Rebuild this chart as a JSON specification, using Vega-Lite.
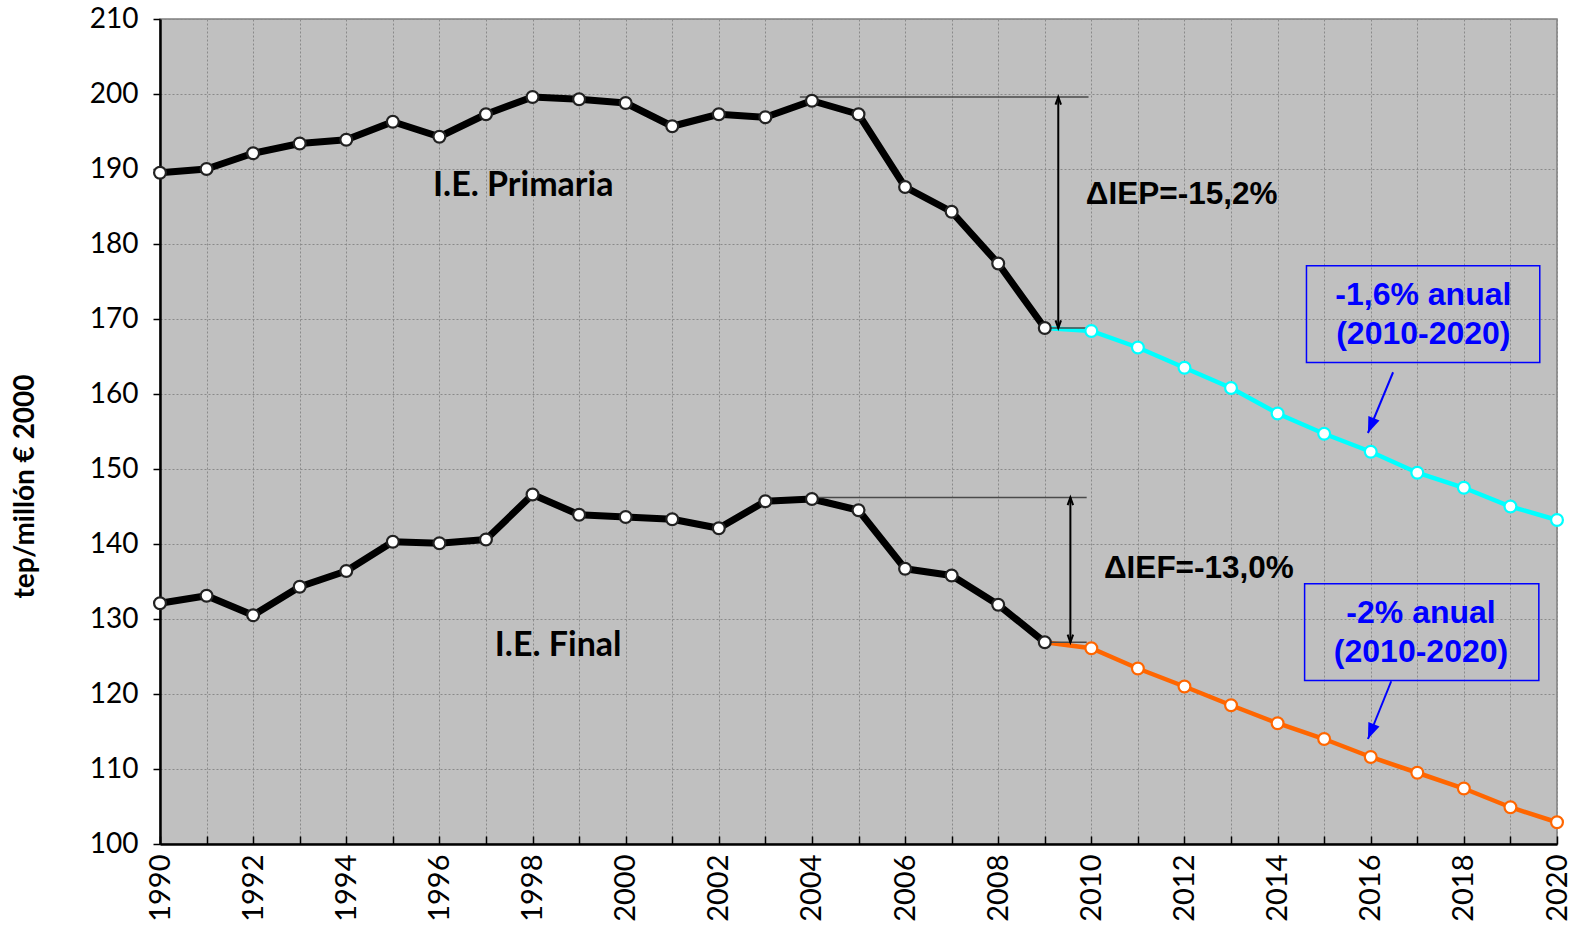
{
  "$schema": "https://vega.github.io/schema/vega-lite/v6.json",
  "width": 1397,
  "height": 825,
  "autosize": {"type": "none"},
  "padding": {"left": 160, "top": 19, "right": 20, "bottom": 87},
  "background": "white",
  "config": {
    "view": {"fill": "#C0C0C0", "stroke": "#808080", "strokeWidth": 1.5},
    "axis": {"labelFont": "Lato", "titleFont": "Lato", "labelColor": "black", "titleColor": "black"}
  },
  "datasets": {
    "series": [
      {"serie": "IEP histórico", "tipo": "h", "year": 1990, "value": 189.5},
      {"serie": "IEP histórico", "tipo": "h", "year": 1991, "value": 190.0},
      {"serie": "IEP histórico", "tipo": "h", "year": 1992, "value": 192.1},
      {"serie": "IEP histórico", "tipo": "h", "year": 1993, "value": 193.4},
      {"serie": "IEP histórico", "tipo": "h", "year": 1994, "value": 193.9},
      {"serie": "IEP histórico", "tipo": "h", "year": 1995, "value": 196.3},
      {"serie": "IEP histórico", "tipo": "h", "year": 1996, "value": 194.3},
      {"serie": "IEP histórico", "tipo": "h", "year": 1997, "value": 197.3},
      {"serie": "IEP histórico", "tipo": "h", "year": 1998, "value": 199.6},
      {"serie": "IEP histórico", "tipo": "h", "year": 1999, "value": 199.3},
      {"serie": "IEP histórico", "tipo": "h", "year": 2000, "value": 198.8},
      {"serie": "IEP histórico", "tipo": "h", "year": 2001, "value": 195.7},
      {"serie": "IEP histórico", "tipo": "h", "year": 2002, "value": 197.3},
      {"serie": "IEP histórico", "tipo": "h", "year": 2003, "value": 196.9},
      {"serie": "IEP histórico", "tipo": "h", "year": 2004, "value": 199.1},
      {"serie": "IEP histórico", "tipo": "h", "year": 2005, "value": 197.3},
      {"serie": "IEP histórico", "tipo": "h", "year": 2006, "value": 187.6},
      {"serie": "IEP histórico", "tipo": "h", "year": 2007, "value": 184.3},
      {"serie": "IEP histórico", "tipo": "h", "year": 2008, "value": 177.4},
      {"serie": "IEP histórico", "tipo": "h", "year": 2009, "value": 168.8},
      {"serie": "IEP previsión", "tipo": "p", "year": 2009, "value": 168.8},
      {"serie": "IEP previsión", "tipo": "p", "year": 2010, "value": 168.4},
      {"serie": "IEP previsión", "tipo": "p", "year": 2011, "value": 166.2},
      {"serie": "IEP previsión", "tipo": "p", "year": 2012, "value": 163.5},
      {"serie": "IEP previsión", "tipo": "p", "year": 2013, "value": 160.8},
      {"serie": "IEP previsión", "tipo": "p", "year": 2014, "value": 157.4},
      {"serie": "IEP previsión", "tipo": "p", "year": 2015, "value": 154.7},
      {"serie": "IEP previsión", "tipo": "p", "year": 2016, "value": 152.3},
      {"serie": "IEP previsión", "tipo": "p", "year": 2017, "value": 149.5},
      {"serie": "IEP previsión", "tipo": "p", "year": 2018, "value": 147.5},
      {"serie": "IEP previsión", "tipo": "p", "year": 2019, "value": 145.0},
      {"serie": "IEP previsión", "tipo": "p", "year": 2020, "value": 143.2},
      {"serie": "IEF histórico", "tipo": "h", "year": 1990, "value": 132.1},
      {"serie": "IEF histórico", "tipo": "h", "year": 1991, "value": 133.1},
      {"serie": "IEF histórico", "tipo": "h", "year": 1992, "value": 130.5},
      {"serie": "IEF histórico", "tipo": "h", "year": 1993, "value": 134.3},
      {"serie": "IEF histórico", "tipo": "h", "year": 1994, "value": 136.4},
      {"serie": "IEF histórico", "tipo": "h", "year": 1995, "value": 140.3},
      {"serie": "IEF histórico", "tipo": "h", "year": 1996, "value": 140.1},
      {"serie": "IEF histórico", "tipo": "h", "year": 1997, "value": 140.6},
      {"serie": "IEF histórico", "tipo": "h", "year": 1998, "value": 146.6},
      {"serie": "IEF histórico", "tipo": "h", "year": 1999, "value": 143.9},
      {"serie": "IEF histórico", "tipo": "h", "year": 2000, "value": 143.6},
      {"serie": "IEF histórico", "tipo": "h", "year": 2001, "value": 143.3},
      {"serie": "IEF histórico", "tipo": "h", "year": 2002, "value": 142.1},
      {"serie": "IEF histórico", "tipo": "h", "year": 2003, "value": 145.7},
      {"serie": "IEF histórico", "tipo": "h", "year": 2004, "value": 146.0},
      {"serie": "IEF histórico", "tipo": "h", "year": 2005, "value": 144.5},
      {"serie": "IEF histórico", "tipo": "h", "year": 2006, "value": 136.7},
      {"serie": "IEF histórico", "tipo": "h", "year": 2007, "value": 135.8},
      {"serie": "IEF histórico", "tipo": "h", "year": 2008, "value": 131.9},
      {"serie": "IEF histórico", "tipo": "h", "year": 2009, "value": 126.9},
      {"serie": "IEF previsión", "tipo": "p", "year": 2009, "value": 126.9},
      {"serie": "IEF previsión", "tipo": "p", "year": 2010, "value": 126.1},
      {"serie": "IEF previsión", "tipo": "p", "year": 2011, "value": 123.4},
      {"serie": "IEF previsión", "tipo": "p", "year": 2012, "value": 121.0},
      {"serie": "IEF previsión", "tipo": "p", "year": 2013, "value": 118.5},
      {"serie": "IEF previsión", "tipo": "p", "year": 2014, "value": 116.1},
      {"serie": "IEF previsión", "tipo": "p", "year": 2015, "value": 114.0},
      {"serie": "IEF previsión", "tipo": "p", "year": 2016, "value": 111.6},
      {"serie": "IEF previsión", "tipo": "p", "year": 2017, "value": 109.5},
      {"serie": "IEF previsión", "tipo": "p", "year": 2018, "value": 107.4},
      {"serie": "IEF previsión", "tipo": "p", "year": 2019, "value": 104.9},
      {"serie": "IEF previsión", "tipo": "p", "year": 2020, "value": 102.9}
    ],
    "hlines": [
      {"year": 2003.74, "year2": 2009.94, "value": 199.6},
      {"year": 2009.0, "year2": 2009.94, "value": 168.8},
      {"year": 2003.95, "year2": 2009.9, "value": 146.2},
      {"year": 2009.0, "year2": 2009.9, "value": 126.9}
    ],
    "vlines": [
      {"year": 2009.29, "value": 199.6, "value2": 168.8},
      {"year": 2009.55, "value": 146.2, "value2": 126.9}
    ],
    "headsUp": [
      {"year": 2009.29, "value": 199.6},
      {"year": 2009.55, "value": 146.2}
    ],
    "headsDown": [
      {"year": 2009.29, "value": 168.8},
      {"year": 2009.55, "value": 126.9}
    ],
    "labelsIE": [
      {"year": 1997.8, "value": 187.7, "text": "I.E. Primaria"},
      {"year": 1998.55, "value": 126.4, "text": "I.E. Final"}
    ],
    "labelsDelta": [
      {"year": 2011.94, "value": 186.6, "text": "ΔIEP=-15,2%"},
      {"year": 2012.31, "value": 136.7, "text": "ΔIEF=-13,0%"}
    ],
    "boxes": [
      {"year": 2014.62, "year2": 2019.63, "value": 177.1, "value2": 164.2},
      {"year": 2014.58, "year2": 2019.61, "value": 134.7, "value2": 121.8}
    ],
    "labelsBlue": [
      {"year": 2017.13, "value": 173.2, "text": "-1,6% anual"},
      {"year": 2017.13, "value": 168.0, "text": "(2010-2020)"},
      {"year": 2017.08, "value": 130.8, "text": "-2% anual"},
      {"year": 2017.08, "value": 125.6, "text": "(2010-2020)"}
    ],
    "blueArrows": [
      {"year": 2016.48, "year2": 2015.94, "value": 162.9, "value2": 154.8},
      {"year": 2016.44, "year2": 2015.94, "value": 121.7, "value2": 114.0}
    ]
  },
  "layer": [
    {
      "data": {"name": "series"},
      "transform": [{"filter": "datum.tipo == 'p'"}],
      "mark": {"type": "line", "strokeWidth": 4.5},
      "encoding": {
        "x": {
          "field": "year", "type": "quantitative",
          "scale": {"domain": [1990, 2020], "nice": false, "zero": false},
          "axis": {
            "title": null,
            "values": [1990,1991,1992,1993,1994,1995,1996,1997,1998,1999,2000,2001,2002,2003,2004,2005,2006,2007,2008,2009,2010,2011,2012,2013,2014,2015,2016,2017,2018,2019,2020],
            "labelExpr": "datum.value % 2 == 0 ? datum.value : ''",
            "format": "d",
            "labelAngle": -90,
            "labelFontSize": 29,
            "labelPadding": 18,
            "tickSize": -8,
            "tickColor": "black",
            "tickWidth": 1.5,
            "domainColor": "black",
            "domainWidth": 2.5,
            "grid": true,
            "gridColor": "#8a8a8a",
            "gridDash": [2, 2],
            "gridWidth": 1,
            "labelOverlap": false
          }
        },
        "y": {
          "field": "value", "type": "quantitative",
          "scale": {"domain": [100, 210], "nice": false, "zero": false},
          "axis": {
            "title": "tep/millón € 2000",
            "titleFontSize": 28,
            "titleFontWeight": "bold",
            "titleX": -135,
            "titleY": 467,
            "titleAngle": -90,
            "titleAlign": "center",
            "titleBaseline": "middle",
            "values": [100,110,120,130,140,150,160,170,180,190,200,210],
            "labelFontSize": 28,
            "labelPadding": 15,
            "tickSize": 7,
            "tickColor": "black",
            "tickWidth": 1.5,
            "domainColor": "black",
            "domainWidth": 2.5,
            "grid": true,
            "gridColor": "#8a8a8a",
            "gridDash": [2, 2],
            "gridWidth": 1
          }
        },
        "detail": {"field": "serie"},
        "color": {
          "field": "serie", "type": "nominal", "legend": null,
          "scale": {"domain": ["IEP histórico", "IEP previsión", "IEF histórico", "IEF previsión"], "range": ["#000000", "#00FFFF", "#000000", "#FF6600"]}
        }
      }
    },
    {
      "data": {"name": "series"},
      "transform": [{"filter": "datum.tipo == 'h'"}],
      "mark": {"type": "line", "strokeWidth": 7, "strokeJoin": "round"},
      "encoding": {
        "x": {"field": "year", "type": "quantitative"},
        "y": {"field": "value", "type": "quantitative"},
        "detail": {"field": "serie"},
        "color": {"field": "serie", "type": "nominal", "legend": null}
      }
    },
    {
      "data": {"name": "hlines"},
      "mark": {"type": "rule", "color": "#4a4a4a", "strokeWidth": 1.5},
      "encoding": {
        "x": {"field": "year", "type": "quantitative"},
        "x2": {"field": "year2"},
        "y": {"field": "value", "type": "quantitative"}
      }
    },
    {
      "data": {"name": "vlines"},
      "mark": {"type": "rule", "color": "black", "strokeWidth": 2},
      "encoding": {
        "x": {"field": "year", "type": "quantitative"},
        "y": {"field": "value", "type": "quantitative"},
        "y2": {"field": "value2"}
      }
    },
    {
      "data": {"name": "headsUp"},
      "mark": {"type": "point", "shape": "M-1,2.8L0,0L1,2.8", "filled": false, "stroke": "black", "strokeWidth": 2, "size": 30, "opacity": 1},
      "encoding": {
        "x": {"field": "year", "type": "quantitative"},
        "y": {"field": "value", "type": "quantitative"}
      }
    },
    {
      "data": {"name": "headsDown"},
      "mark": {"type": "point", "shape": "M-1,-2.8L0,0L1,-2.8", "filled": false, "stroke": "black", "strokeWidth": 2, "size": 30, "opacity": 1},
      "encoding": {
        "x": {"field": "year", "type": "quantitative"},
        "y": {"field": "value", "type": "quantitative"}
      }
    },
    {
      "data": {"name": "series"},
      "transform": [{"filter": "datum.tipo == 'h' || datum.year > 2009"}],
      "mark": {"type": "point", "filled": true, "fill": "white", "strokeWidth": 2.2, "size": 140, "opacity": 1},
      "encoding": {
        "x": {"field": "year", "type": "quantitative"},
        "y": {"field": "value", "type": "quantitative"},
        "stroke": {
          "field": "serie", "type": "nominal", "legend": null,
          "scale": {"domain": ["IEP histórico", "IEP previsión", "IEF histórico", "IEF previsión"], "range": ["#222222", "#00FFFF", "#222222", "#FF6600"]}
        }
      }
    },
    {
      "data": {"name": "labelsIE"},
      "mark": {"type": "text", "font": "Lato", "fontWeight": "bold", "fontSize": 34, "color": "black", "align": "center", "baseline": "middle"},
      "encoding": {
        "x": {"field": "year", "type": "quantitative"},
        "y": {"field": "value", "type": "quantitative"},
        "text": {"field": "text"}
      }
    },
    {
      "data": {"name": "labelsDelta"},
      "mark": {"type": "text", "font": "Liberation Sans", "fontWeight": "bold", "fontSize": 31.5, "color": "black", "align": "center", "baseline": "middle"},
      "encoding": {
        "x": {"field": "year", "type": "quantitative"},
        "y": {"field": "value", "type": "quantitative"},
        "text": {"field": "text"}
      }
    },
    {
      "data": {"name": "boxes"},
      "mark": {"type": "rect", "fill": null, "fillOpacity": 0, "stroke": "#0000FF", "strokeWidth": 1.5},
      "encoding": {
        "x": {"field": "year", "type": "quantitative"},
        "x2": {"field": "year2"},
        "y": {"field": "value", "type": "quantitative"},
        "y2": {"field": "value2"}
      }
    },
    {
      "data": {"name": "labelsBlue"},
      "mark": {"type": "text", "font": "Liberation Sans", "fontWeight": "bold", "fontSize": 32, "color": "#0000FF", "align": "center", "baseline": "middle"},
      "encoding": {
        "x": {"field": "year", "type": "quantitative"},
        "y": {"field": "value", "type": "quantitative"},
        "text": {"field": "text"}
      }
    },
    {
      "data": {"name": "blueArrows"},
      "mark": {"type": "rule", "color": "#0000FF", "strokeWidth": 2},
      "encoding": {
        "x": {"field": "year", "type": "quantitative"},
        "x2": {"field": "year2"},
        "y": {"field": "value", "type": "quantitative"},
        "y2": {"field": "value2"}
      }
    },
    {
      "data": {"name": "blueArrows"},
      "mark": {"type": "point", "shape": "M0,0L-1.2,-3.2L1.2,-3.2Z", "filled": true, "fill": "#0000FF", "strokeWidth": 0, "size": 100, "opacity": 1, "angle": 22},
      "encoding": {
        "x": {"field": "year2", "type": "quantitative"},
        "y": {"field": "value2", "type": "quantitative"}
      }
    }
  ]
}
